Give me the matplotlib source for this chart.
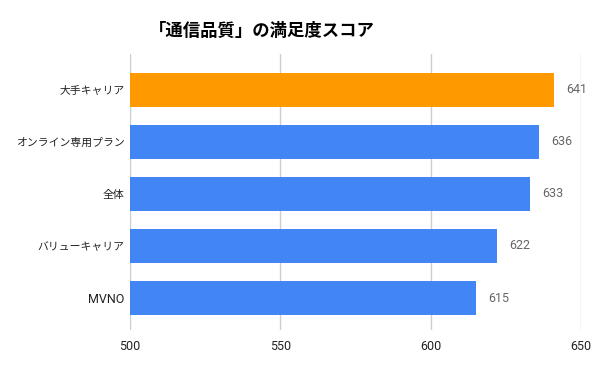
import matplotlib
matplotlib.use("Agg")
import matplotlib.pyplot as plt

plt.rcParams['font.family'] = ['Roboto', 'Noto Sans CJK JP', 'DejaVu Sans']

categories = ["大手キャリア", "オンライン専用プラン", "全体", "バリューキャリア", "MVNO"]
scores = [641, 636, 633, 622, 615]
colors = ["#FF9900", "#4285F4", "#4285F4", "#4285F4", "#4285F4"]
xticks = [500, 550, 600, 650]

fig = plt.figure(figsize=(6, 3.71), dpi=100)
ax = fig.add_axes([130 / 600, 1 - 330 / 371, 451 / 600, 276 / 371])

y = list(range(len(categories)))
base = 500
ax.barh(y, [s - base for s in scores], left=base, height=0.654, color=colors, zorder=3)

for yi, s in zip(y, scores):
    ax.text(s + 4, yi, str(s), va="center", ha="left", fontsize=9, color="#666666")

ax.set_xlim(500, 650)
ax.set_ylim(4.615, -0.69)
ax.set_xticks(xticks)
ax.set_xticklabels([str(t) for t in xticks], fontsize=9, color="#222222")
ax.set_yticks(y)
ax.set_yticklabels(categories, fontsize=7.8, color="#222222",
                   family=['Noto Sans CJK JP', 'DejaVu Sans'])
# latin label looks bigger in the original
for lab in ax.get_yticklabels():
    if lab.get_text().isascii():
        lab.set_family(['Roboto', 'DejaVu Sans'])
        lab.set_fontsize(9)
ax.tick_params(length=0)
ax.tick_params(axis='y', pad=4)
ax.tick_params(axis='x', pad=7)
ax.grid(axis='x', color="#cccccc", linewidth=1, zorder=0)
for sp in ax.spines.values():
    sp.set_visible(False)

fig.text(262 / 600, 1 - 31 / 371, "「通信品質」の満足度スコア", ha="center", va="center",
         fontsize=12.5, fontweight="bold", color="#000000",
         family=['Noto Sans CJK JP', 'DejaVu Sans'])

fig.savefig("out.png", dpi=100)
